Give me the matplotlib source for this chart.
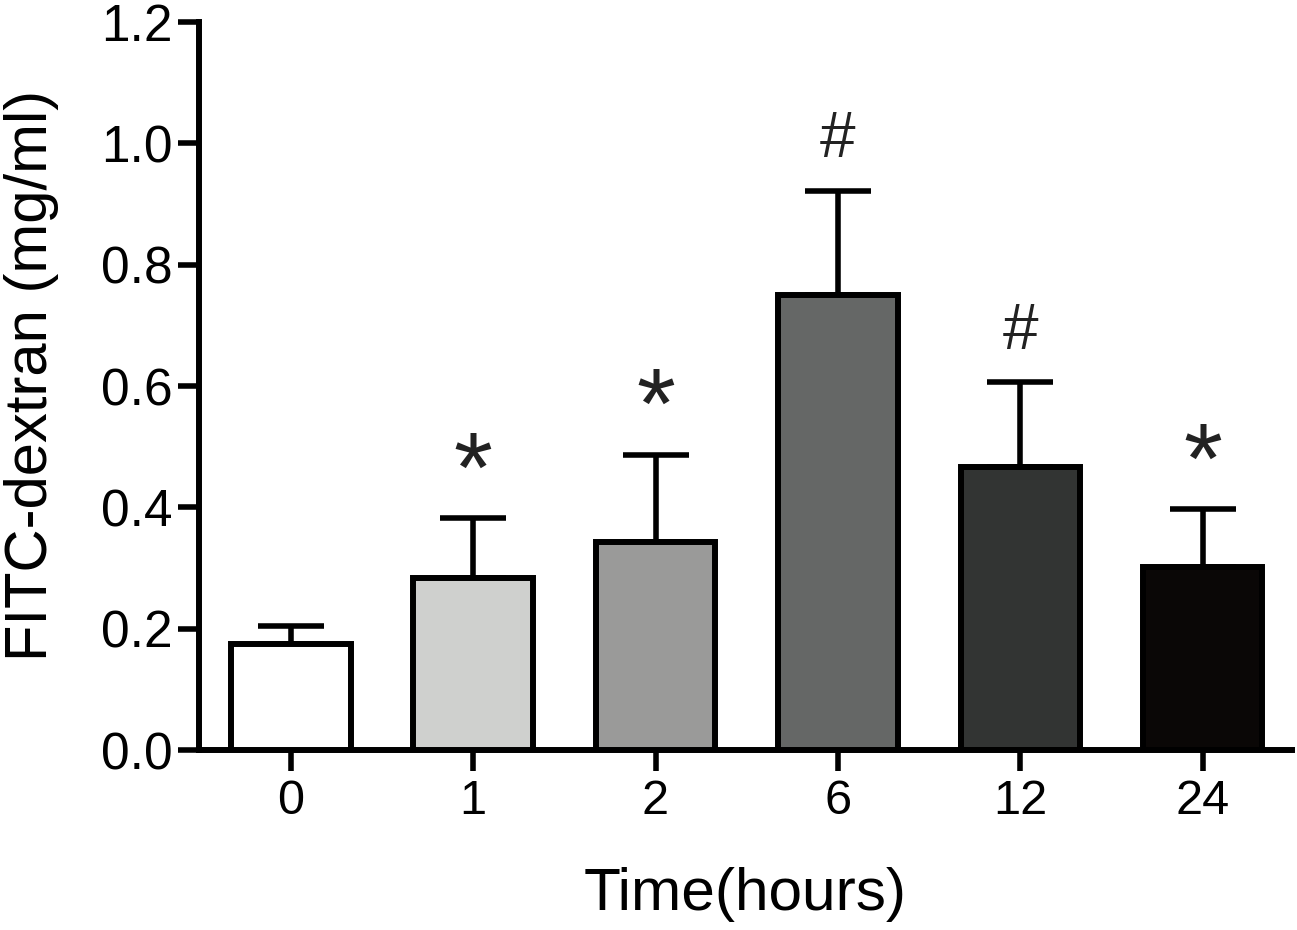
import matplotlib
matplotlib.use("Agg")
import matplotlib.pyplot as plt

categories = ["0", "1", "2", "6", "12", "24"]
means = [0.174, 0.283, 0.343, 0.750, 0.467, 0.301]
errors = [0.031, 0.099, 0.144, 0.172, 0.139, 0.096]
marks = ["", "*", "*", "#", "#", "*"]
colors = ["#ffffff", "#cfd0ce", "#9a9a99", "#656766", "#323433", "#0a0706"]

plt.rcParams['font.family'] = ['Liberation Sans', 'DejaVu Sans']

fig = plt.figure(figsize=(12.97, 9.30), dpi=100)
ax = fig.add_axes([0.1534, 0.1935, 0.8427, 0.7828])

x = list(range(len(categories)))
ax.bar(x, means, width=0.655, color=colors, edgecolor="black", linewidth=4.3, zorder=3)
ax.errorbar(x, means, yerr=[[0]*len(errors), errors], fmt="none", ecolor="black",
            elinewidth=4.0, capsize=24, capthick=4.0, zorder=2)
for xi, m, e, mk in zip(x, means, errors, marks):
    if not mk:
        continue
    if mk == "*":
        ax.annotate(mk, (xi, m + e), xytext=(0, -3), textcoords="offset points",
                    ha="center", va="bottom", fontsize=72, color="#222222")
    else:
        ax.annotate(mk, (xi, m + e), xytext=(0, 15), textcoords="offset points",
                    ha="center", va="bottom", fontsize=46, color="#222222")

ax.set_xlim(-0.504, 5.49)
ax.set_ylim(0, 1.2)
ax.set_yticks([0.0, 0.2, 0.4, 0.6, 0.8, 1.0, 1.2])
ax.set_yticklabels(["0.0", "0.2", "0.4", "0.6", "0.8", "1.0", "1.2"])
ax.set_xticks(x)
ax.set_xticklabels(categories)

for s in ["top", "right"]:
    ax.spines[s].set_visible(False)
for s in ["left", "bottom"]:
    ax.spines[s].set_linewidth(4.3)
    ax.spines[s].set_capstyle("projecting")

ax.tick_params(axis="y", length=15, width=4.0, labelsize=37, pad=4)
ax.tick_params(axis="x", length=15, width=4.0, labelsize=35, pad=6)
ax.set_xlabel("Time(hours)", fontsize=43.5, labelpad=31)
ax.set_ylabel("FITC-dextran (mg/ml)", fontsize=43, labelpad=30)
ax.yaxis.label.set_y(0.515)

fig.savefig("out.png", dpi=100)
